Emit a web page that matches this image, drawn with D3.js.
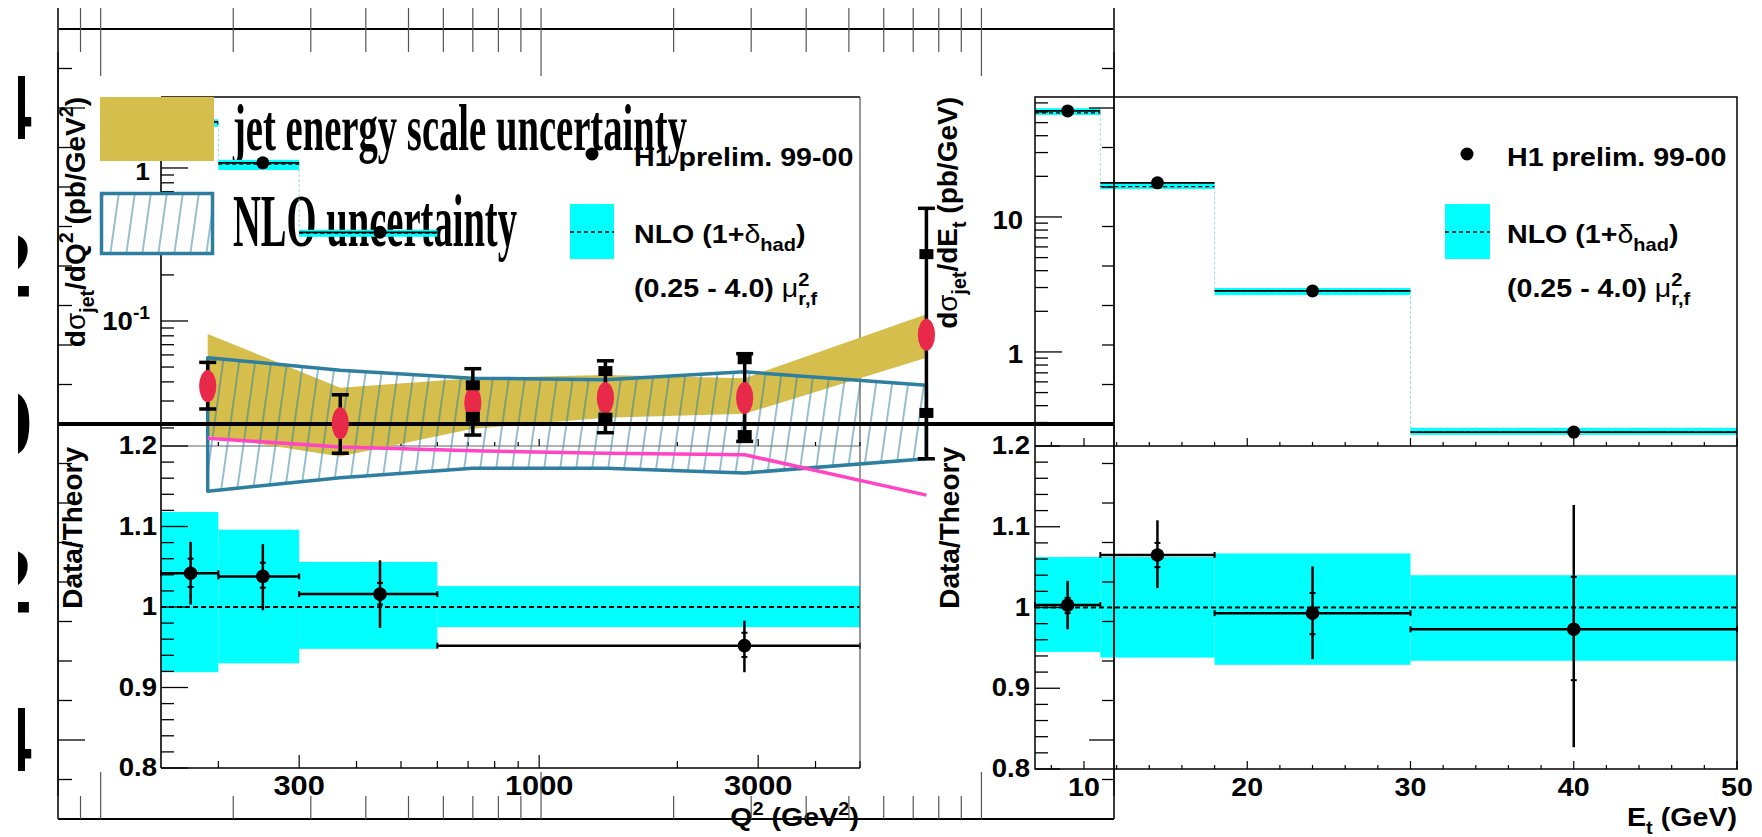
<!DOCTYPE html>
<html>
<head>
<meta charset="utf-8">
<script src="https://cdn.jsdelivr.net/npm/d3@7"></script>
<style>
  body { margin: 0; background: #fff; }
  svg { display: block; }
  text { font-family: "Liberation Sans", Arial, Helvetica, sans-serif; font-weight: bold; fill: #000; }
  .serif { font-family: "Liberation Serif", "Times New Roman", serif; }
</style>
</head>
<body>
<svg id="chart"></svg>
<script>
// --- overlay frame: shift vs Q2 (red points, bands) ---
const shiftQ2 = [175, 350, 700, 1400, 2900, 7500];
const shiftVal = [0.0048, 0.0001, 0.0027, 0.0033, 0.0033, 0.0113];
const shiftTotHi = [0.0078, 0.0037, 0.0070, 0.0080, 0.0089, 0.0273];
const shiftTotLo = [0.0019, -0.0037, -0.0014, -0.0011, -0.0022, -0.0044];
const shiftStatHi = [null, null, 0.0049, 0.0067, 0.0082, 0.0215];
const shiftStatLo = [null, null, 0.0009, 0.0008, -0.0014, 0.0014];
const jesHi = [0.0114, 0.0046, 0.0058, 0.0062, 0.0058, 0.0139];
const jesLo = [-0.0015, -0.0041, -0.0006, 0.0008, 0.0013, 0.0084];
const nloUncHi = [0.0084, 0.0068, 0.0058, 0.0056, 0.0066, 0.0049];
const nloUncLo = [-0.0085, -0.0068, -0.0056, -0.0056, -0.0062, -0.0044];
const pinkCurve = [-0.0018, -0.0029, -0.0034, -0.0037, -0.0039, -0.0090];
const shiftTickLabels = [-0.04, -0.02, 0, 0.02, 0.04];

// --- left plot: dsigma/dQ2 ---
const q2Edges = [150, 200, 300, 600, 5000];
const q2Nlo = [1.95, 1.06, 0.375, 0.0135];
const q2NloUp = [2.08, 1.13, 0.395, 0.0142];
const q2NloDn = [1.86, 0.97, 0.355, 0.0128];
const q2DataX = [174, 250, 450, 2800];
const q2Data = [2.0, 1.08, 0.38, 0.0129];
const q2Ratio = [1.042, 1.038, 1.016, 0.952];
const q2RatTotUp = [1.081, 1.078, 1.058, 0.983];
const q2RatTotDn = [1.003, 0.996, 0.974, 0.919];
const q2RatStatUp = [1.060, 1.055, 1.030, 0.968];
const q2RatStatDn = [1.025, 1.024, 1.003, 0.938];
const q2BandUp = [1.118, 1.096, 1.056, 1.026];
const q2BandDn = [0.919, 0.930, 0.948, 0.975];
const q2TickLabels = [300, 1000, 3000];

// --- right plot: dsigma/dEt ---
const etEdges = [7, 11, 18, 30, 50];
const etNlo = [59, 16.8, 2.83, 0.255];
const etNloUp = [64, 17.9, 2.98, 0.274];
const etNloDn = [57, 16.1, 2.64, 0.243];
const etDataX = [9, 14.5, 24, 40];
const etData = [61, 17.9, 2.83, 0.255];
const etRatio = [1.003, 1.065, 0.993, 0.973];
const etRatTotUp = [1.033, 1.108, 1.051, 1.127];
const etRatTotDn = [0.973, 1.024, 0.936, 0.827];
const etRatStatUp = [1.012, 1.080, 1.018, 1.038];
const etRatStatDn = [0.993, 1.050, 0.967, 0.910];
const etBandUp = [1.0625, 1.0625, 1.067, 1.040];
const etBandDn = [0.945, 0.938, 0.929, 0.934];
const etTickLabels = [10, 20, 30, 40, 50];

const ratioTickLabels = [0.8, 0.9, 1, 1.1, 1.2];

const CYAN = "#00ffff", GOLD = "#d5be4b", BLUE = "#2e7ea0", RED = "#e8294a", PINK = "#ff44c4";
const SX = 1.1; // horizontal stretch of the original fonts

// scales
const bx = d3.scaleLog().domain([80, 20000]).range([58, 1114]);
const by = d3.scaleLinear().domain([-0.05, 0.05]).range([819, 29]);
const qx = d3.scaleLog().domain([150, 5000]).range([161, 860]);
const qyTop = d3.scaleLog().domain([0.01524, 2.91]).range([446, 97]);
const qyRat = d3.scaleLinear().domain([0.8, 1.2]).range([768, 446]);
const ex = d3.scaleLinear().domain([7, 50]).range([1035, 1737]);
const eyTop = d3.scaleLog().domain([0.201, 77.4]).range([446, 97]);
const eyRat = d3.scaleLinear().domain([0.8, 1.2]).range([769, 446]);

const svg = d3.select("#chart").attr("width", 1762).attr("height", 837);
const defs = svg.append("defs");
const pat = defs.append("pattern").attr("id", "hatch")
    .attr("width", 16).attr("height", 16)
    .attr("patternUnits", "userSpaceOnUse")
    .attr("patternTransform", "skewX(-8)");
pat.append("line").attr("x1", 2).attr("x2", 2).attr("y1", 0).attr("y2", 16)
    .attr("stroke", BLUE).attr("stroke-width", 1);
defs.append("clipPath").attr("id", "lblClip")
    .append("rect").attr("x", 18).attr("y", 0).attr("width", 40).attr("height", 837);
defs.append("clipPath").attr("id", "padL")
    .append("rect").attr("x", 161).attr("y", 97).attr("width", 699).attr("height", 349);
defs.append("clipPath").attr("id", "padR")
    .append("rect").attr("x", 1035).attr("y", 97).attr("width", 702).attr("height", 349);

const close = (a, b) => Math.abs(a - b) < 1e-9 + 1e-6 * Math.abs(b);
const isMajor = (majors) => d => majors.some(m => close(d, m));

// rich text with sub/superscripts
function rich(t, parts, size) {
    if (typeof parts === "string") { t.text(parts); return t; }
    let shift = 0;
    parts.forEach(p => {
        const target = p.sub ? size * 0.32 : p.sup ? -size * 0.42 : 0;
        const s = t.append("tspan").attr("dy", target - shift).text(p.t);
        if (p.sub || p.sup) s.attr("font-size", size * 0.7);
        if (p.thin) s.attr("font-weight", "normal");
        if (p.dx) s.attr("dx", p.dx);
        shift = target;
    });
    return t;
}
function hText(g, x, y, parts, size, anchor = "start") {
    const t = g.append("text")
        .attr("transform", `translate(${x},${y}) scale(${SX},1)`)
        .attr("text-anchor", anchor).attr("font-size", size);
    return rich(t, parts, size);
}
function vText(g, x, y, parts, size) {
    const t = g.append("text")
        .attr("transform", `translate(${x},${y}) rotate(-90)`)
        .attr("text-anchor", "end").attr("font-size", size);
    return rich(t, parts, size);
}
function line(g, x1, y1, x2, y2, stroke = "#000", w = 1.5) {
    return g.append("line").attr("x1", x1).attr("y1", y1).attr("x2", x2).attr("y2", y2)
        .attr("stroke", stroke).attr("stroke-width", w);
}
// ticks along a vertical axis at x (dir +1 = to the right)
function yTicks(g, x, scale, values, majors, dir, minLen, majLen, color = "#000") {
    const maj = isMajor(majors);
    g.selectAll(null).data(values).enter().append("line")
        .attr("x1", x).attr("x2", d => x + dir * (maj(d) ? majLen : minLen))
        .attr("y1", d => scale(d)).attr("y2", d => scale(d))
        .attr("stroke", color).attr("stroke-width", 1.3);
}
// ticks along a horizontal axis at y (dir -1 = upward)
function xTicks(g, y, scale, values, majors, dir, minLen, majLen, color = "#000", y0 = y) {
    const maj = isMajor(majors);
    g.selectAll(null).data(values).enter().append("line")
        .attr("x1", d => scale(d)).attr("x2", d => scale(d))
        .attr("y1", y0).attr("y2", d => y + dir * (maj(d) ? majLen : minLen))
        .attr("stroke", color).attr("stroke-width", 1.2);
}

// ---------- big legend text (drawn first, lines cross it) ----------
const gLegText = svg.append("g");
gLegText.append("text").attr("class", "serif").attr("x", 233).attr("y", 150)
    .attr("font-size", 66).attr("textLength", 454).attr("lengthAdjust", "spacingAndGlyphs")
    .text("jet energy scale uncertainty");
gLegText.append("text").attr("class", "serif").attr("x", 233).attr("y", 246)
    .attr("font-size", 75).attr("textLength", 284).attr("lengthAdjust", "spacingAndGlyphs")
    .text("NLO uncertainty");

// ---------- histogram + ratio panel helper ----------
function drawPanel(g, o) {
    const { xs, ysTop, ysRat, edges, nlo, nloUp, nloDn, dataX, data,
            ratio, totUp, totDn, statUp, statDn, bandUp, bandDn, clip } = o;
    const bins = d3.range(edges.length - 1);
    const inRange = v => v >= ysTop.domain()[0] && v <= ysTop.domain()[1];

    // upper: NLO band, central dashed line, connectors
    const gu = g.append("g").attr("clip-path", `url(#${clip})`);
    gu.selectAll(null).data(bins).enter().append("rect")
        .attr("x", i => xs(edges[i])).attr("width", i => xs(edges[i + 1]) - xs(edges[i]))
        .attr("y", i => ysTop(nloUp[i])).attr("height", i => ysTop(nloDn[i]) - ysTop(nloUp[i]))
        .attr("fill", CYAN);
    gu.selectAll(null).data(bins.slice(0, -1).filter(i => inRange(nlo[i + 1]))).enter().append("line")
        .attr("x1", i => xs(edges[i + 1])).attr("x2", i => xs(edges[i + 1]))
        .attr("y1", i => ysTop(nlo[i])).attr("y2", i => ysTop(nlo[i + 1]))
        .attr("stroke", "#9adbe0").attr("stroke-width", 1).attr("stroke-dasharray", "3,2");
    gu.selectAll(null).data(bins).enter().append("line")
        .attr("x1", i => xs(edges[i])).attr("x2", i => xs(edges[i + 1]))
        .attr("y1", i => ysTop(nlo[i])).attr("y2", i => ysTop(nlo[i]))
        .attr("stroke", "#000").attr("stroke-width", 1.3).attr("stroke-dasharray", "4,3");
    gu.selectAll(null).data(bins).enter().append("line")
        .attr("x1", i => xs(edges[i])).attr("x2", i => xs(edges[i + 1]))
        .attr("y1", i => ysTop(data[i])).attr("y2", i => ysTop(data[i]))
        .attr("stroke", "#000").attr("stroke-width", 1.8);
    gu.selectAll(null).data(bins).enter().append("circle")
        .attr("cx", i => xs(dataX[i])).attr("cy", i => ysTop(data[i])).attr("r", 6.5);

    // lower: ratio band, unity line, points
    g.selectAll(null).data(bins).enter().append("rect")
        .attr("x", i => xs(edges[i])).attr("width", i => xs(edges[i + 1]) - xs(edges[i]))
        .attr("y", i => ysRat(bandUp[i])).attr("height", i => ysRat(bandDn[i]) - ysRat(bandUp[i]))
        .attr("fill", CYAN);
    line(g, xs.range()[0], ysRat(1), xs.range()[1], ysRat(1), "#000", 2).attr("stroke-dasharray", "5,3");
    bins.forEach(i => {
        const cx = xs(dataX[i]), cy = ysRat(ratio[i]);
        const xa = xs(edges[i]), xb = xs(edges[i + 1]);
        line(g, xa, cy, xb, cy, "#000", 2.5);
        line(g, xa, cy - 3, xa, cy + 3, "#000", 2);
        line(g, xb, cy - 3, xb, cy + 3, "#000", 2);
        line(g, cx, ysRat(totUp[i]), cx, ysRat(totDn[i]), "#000", 2.5);
        line(g, cx - 3, ysRat(statUp[i]), cx + 3, ysRat(statUp[i]), "#000", 2);
        line(g, cx - 3, ysRat(statDn[i]), cx + 3, ysRat(statDn[i]), "#000", 2);
        g.append("circle").attr("cx", cx).attr("cy", cy).attr("r", 6.8);
    });
}

// ---------- left plot ----------
const gl = svg.append("g");
{
    const [x0, x1] = qx.range(), top = qyTop.range()[1], mid = qyTop.range()[0], bot = qyRat.range()[0];
    drawPanel(gl, {
        xs: qx, ysTop: qyTop, ysRat: qyRat, edges: q2Edges, nlo: q2Nlo, nloUp: q2NloUp, nloDn: q2NloDn,
        dataX: q2DataX, data: q2Data, ratio: q2Ratio, totUp: q2RatTotUp, totDn: q2RatTotDn,
        statUp: q2RatStatUp, statDn: q2RatStatDn, bandUp: q2BandUp, bandDn: q2BandDn, clip: "padL"
    });
    line(gl, x0, top, x1, top, "#000", 1.5);
    line(gl, x0, top, x0, bot, "#000", 1.6);
    line(gl, x1, top, x1, bot, "#555", 1.2);
    line(gl, x0, mid, x1, mid, "#666", 1.2);
    line(gl, x0, bot, x1, bot, "#000", 1.6);

    yTicks(gl, x0, qyTop, qyTop.ticks(), [0.1, 1], 1, 13, 27);
    yTicks(gl, x0, qyRat, d3.range(40, 61).map(i => i / 50), ratioTickLabels, 1, 13, 27);
    xTicks(gl, mid, qx, qx.ticks(), q2TickLabels.concat([1000]), -1, 4, 7);
    xTicks(gl, bot, qx, qx.ticks(), q2TickLabels, -1, 7, 13);

    hText(gl, x0 - 11, qyTop(1) + 12, "1", 24, "end");
    hText(gl, x0 - 11, qyTop(0.1) + 9, [{ t: "10" }, { t: "-1", sup: true }], 25, "end");
    ratioTickLabels.forEach(v => hText(gl, x0 - 4, qyRat(v) + 8, d3.format("")(v), 25, "end"));
    q2TickLabels.forEach(v => hText(gl, qx(v), 795, String(v), 28, "middle"));
    hText(gl, 859, 826, [{ t: "Q" }, { t: "2", sup: true }, { t: " (GeV" }, { t: "2", sup: true }, { t: ")" }], 26, "end");

    vText(gl, 85, 97, [{ t: "d" }, { t: "σ", thin: true }, { t: "jet", sub: true }, { t: "/dQ" },
        { t: "2", sup: true }, { t: " (pb/GeV" }, { t: "2", sup: true }, { t: ")" }], 28);
    vText(gl, 82, 447, "Data/Theory", 28);

    // legend
    gl.append("circle").attr("cx", 592).attr("cy", 154).attr("r", 6.5);
    hText(gl, 634, 166, "H1 prelim. 99-00", 26);
    gl.append("rect").attr("x", 570).attr("y", 204).attr("width", 44).attr("height", 55).attr("fill", CYAN);
    line(gl, 570, 232, 614, 232, "#000", 1.5).attr("stroke-dasharray", "4,3");
    hText(gl, 634, 243, [{ t: "NLO (1+" }, { t: "δ", thin: true }, { t: "had", sub: true }, { t: ")" }], 26);
    hText(gl, 634, 297, [{ t: "(0.25 - 4.0) " }, { t: "μ", thin: true }, { t: "2", sup: true },
        { t: "r,f", sub: true, dx: -26 * 0.7 * 0.556 }], 26);
}

// ---------- right plot ----------
const gr = svg.append("g");
{
    const [x0, x1] = ex.range(), top = eyTop.range()[1], mid = eyTop.range()[0], bot = eyRat.range()[0];
    drawPanel(gr, {
        xs: ex, ysTop: eyTop, ysRat: eyRat, edges: etEdges, nlo: etNlo, nloUp: etNloUp, nloDn: etNloDn,
        dataX: etDataX, data: etData, ratio: etRatio, totUp: etRatTotUp, totDn: etRatTotDn,
        statUp: etRatStatUp, statDn: etRatStatDn, bandUp: etBandUp, bandDn: etBandDn, clip: "padR"
    });
    gr.append("rect").attr("x", x0).attr("y", top).attr("width", x1 - x0).attr("height", bot - top)
        .attr("fill", "none").attr("stroke", "#000").attr("stroke-width", 1.5);
    line(gr, x0, mid, x1, mid, "#000", 1.3);

    yTicks(gr, x0, eyTop, eyTop.ticks(), [1, 10], 1, 13, 27);
    yTicks(gr, x0, eyRat, d3.range(40, 61).map(i => i / 50), ratioTickLabels, 1, 13, 25);
    const etTicks = d3.range(8, 51, 2);
    xTicks(gr, mid, ex, etTicks, etTickLabels, -1, 4, 8);
    xTicks(gr, bot, ex, etTicks, etTickLabels, -1, 4, 8);

    hText(gr, x0 - 12, eyTop(10) + 12, "10", 25, "end");
    hText(gr, x0 - 12, eyTop(1) + 11, "1", 25, "end");
    ratioTickLabels.forEach(v => hText(gr, x0 - 5, eyRat(v) + 8, d3.format("")(v), 25, "end"));
    etTickLabels.forEach(v => hText(gr, ex(v), 796, String(v), 26, "middle"));
    hText(gr, 1737, 826, [{ t: "E" }, { t: "t", sub: true }, { t: " (GeV)" }], 26, "end");

    vText(gr, 957, 97, [{ t: "d" }, { t: "σ", thin: true }, { t: "jet", sub: true }, { t: "/dE" },
        { t: "t", sub: true }, { t: " (pb/GeV)" }], 28);
    vText(gr, 959, 447, "Data/Theory", 28);

    gr.append("circle").attr("cx", 1467).attr("cy", 154).attr("r", 6.5);
    hText(gr, 1507, 166, "H1 prelim. 99-00", 26);
    gr.append("rect").attr("x", 1445).attr("y", 204).attr("width", 45).attr("height", 55).attr("fill", CYAN);
    line(gr, 1445, 232, 1490, 232, "#000", 1.5).attr("stroke-dasharray", "4,3");
    hText(gr, 1507, 243, [{ t: "NLO (1+" }, { t: "δ", thin: true }, { t: "had", sub: true }, { t: ")" }], 26);
    hText(gr, 1507, 297, [{ t: "(0.25 - 4.0) " }, { t: "μ", thin: true }, { t: "2", sup: true },
        { t: "r,f", sub: true, dx: -26 * 0.7 * 0.556 }], 26);
}

// ---------- overlay frame (shift vs Q2) ----------
const go = svg.append("g");
{
    const [x0, x1] = bx.range(), bot = by.range()[0], top = by.range()[1], tickTop = 8;
    const idx = d3.range(shiftQ2.length);

    // frame + ticks
    line(go, x0, tickTop, x0, bot, "#000", 1.8);
    line(go, x1, tickTop, x1, bot, "#000", 1.8);
    line(go, x0, top, x1, top, "#000", 2);
    line(go, x0, bot, x1, bot, "#000", 2);
    const bTicks = bx.ticks();
    xTicks(go, top, bx, bTicks, [100, 1000, 10000], 1, 23, 47, "#555", tickTop);
    xTicks(go, bot, bx, bTicks, [100, 1000, 10000], -1, 23, 47, "#555");
    const sTicks = d3.range(-9, 10).map(i => i * 0.005);
    yTicks(go, x0, by, sTicks, [-0.04, 0, 0.04], 1, 14, 27);
    yTicks(go, x1, by, sTicks, [-0.04, 0, 0.04], -1, 12, 25);
    go.append("g").attr("clip-path", "url(#lblClip)")
        .selectAll(null).data(shiftTickLabels).enter().append("text")
        .attr("class", "serif").attr("x", 33).attr("y", d => by(d) + 31)
        .attr("text-anchor", "end").attr("font-size", 95)
        .text(d => d3.format("")(d));

    // bands
    go.append("path").datum(idx)
        .attr("d", d3.area().x(i => bx(shiftQ2[i])).y0(i => by(jesLo[i])).y1(i => by(jesHi[i])))
        .attr("fill", GOLD);
    go.append("path").datum(idx)
        .attr("d", d3.area().x(i => bx(shiftQ2[i])).y0(i => by(nloUncLo[i])).y1(i => by(nloUncHi[i])))
        .attr("fill", "url(#hatch)").attr("stroke", BLUE).attr("stroke-width", 3.5)
        .attr("stroke-linejoin", "round");
    go.append("path").datum(idx)
        .attr("d", d3.line().x(i => bx(shiftQ2[i])).y(i => by(pinkCurve[i])))
        .attr("fill", "none").attr("stroke", PINK).attr("stroke-width", 3.5);

    // zero line
    line(go, x0, by(0), x1, by(0), "#000", 4);

    // points
    idx.forEach(i => {
        const cx = bx(shiftQ2[i]);
        line(go, cx, by(shiftTotHi[i]), cx, by(shiftTotLo[i]), "#000", 3.5);
        [shiftTotHi[i], shiftTotLo[i]].forEach(v => line(go, cx - 8.5, by(v), cx + 8.5, by(v), "#000", 3.5));
        go.append("ellipse").attr("cx", cx).attr("cy", by(shiftVal[i]))
            .attr("rx", 8.6).attr("ry", 16).attr("fill", RED);
        if (shiftStatHi[i] !== null) {
            [shiftStatHi[i], shiftStatLo[i]].forEach(v => go.append("rect")
                .attr("x", cx - 7).attr("y", by(v) - 5).attr("width", 14).attr("height", 10).attr("fill", "#000"));
        }
    });

    // legend boxes
    go.append("rect").attr("x", 100).attr("y", 97).attr("width", 114).attr("height", 64).attr("fill", GOLD);
    go.append("rect").attr("x", 101.5).attr("y", 193.5).attr("width", 111).attr("height", 60)
        .attr("fill", "#fff").attr("stroke", BLUE).attr("stroke-width", 3.5);
    go.append("rect").attr("x", 101.5).attr("y", 193.5).attr("width", 111).attr("height", 60)
        .attr("fill", "url(#hatch)");
}
</script>
</body>
</html>
